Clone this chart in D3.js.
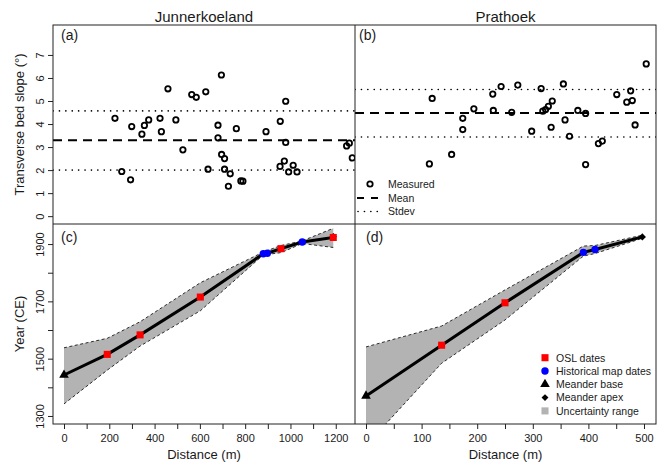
<!DOCTYPE html>
<html>
<head>
<meta charset="utf-8">
<script src="https://cdn.jsdelivr.net/npm/d3@7"></script>
<style>
    body { margin: 0; background: #fff; }
    svg { display: block; font-family: "Liberation Sans", Arial, sans-serif; }
</style>
</head>
<body>
<svg id="chart" width="662" height="464"></svg>
<script>
// --- data ---
var siteNames = ['Junnerkoeland', 'Prathoek'];

// (a) Junnerkoeland transverse bed slope
var junDist = [225, 255, 294, 299, 344, 355, 374, 424, 430, 459, 494, 525, 564, 584, 626, 636, 680, 680, 695,
    696, 709, 709, 726, 734, 761, 781, 790, 892, 954, 955, 973, 979, 979, 992, 1012, 1029, 1248, 1260, 1273];
var junSlope = [4.25, 1.94, 1.58, 3.89, 3.56, 3.94, 4.18, 4.25, 3.67, 5.53, 4.18, 2.88, 5.28, 5.16, 5.40, 2.04, 3.95, 3.40, 6.13,
    2.68, 2.50, 2.04, 1.30, 1.84, 3.80, 1.53, 1.52, 3.67, 2.16, 4.12, 2.39, 4.99, 3.20, 1.92, 2.21, 1.92, 3.05, 3.17, 2.53];
var junStats = [2.00, 3.30, 4.57]; // mean - sd, mean, mean + sd

// (b) Prathoek transverse bed slope
var praDist = [114, 119, 154, 174, 174, 194, 228, 229, 243, 262, 273, 298, 315, 318, 323, 328, 333, 335, 355,
    358, 366, 381, 395, 395, 418, 425, 451, 469, 476, 479, 484, 504];
var praSlope = [2.27, 5.11, 2.68, 4.25, 3.76, 4.66, 5.30, 4.59, 5.63, 4.51, 5.69, 3.69, 5.54, 4.56, 4.63, 4.77, 3.86, 5.00, 5.74,
    4.18, 3.47, 4.59, 4.46, 2.24, 3.15, 3.26, 5.28, 4.95, 5.44, 5.02, 3.96, 6.61];
var praStats = [3.44, 4.48, 5.50];

// (c) Junnerkoeland chronology
var junBase = [0, 1443];
var junApex = [1189, 1926];
var junOslDist = [191, 336, 602, 958, 1189];
var junOslYear = [1515, 1583, 1715, 1884, 1923];
var junMapDist = [880, 898, 1052];
var junMapYear = [1866, 1868, 1907];
var junBandDist = [0, 191, 336, 602, 880, 958, 1052, 1189];
var junBandUpper = [1538, 1571, 1629, 1765, 1872, 1895, 1911, 1955];
var junBandLower = [1342, 1460, 1544, 1667, 1862, 1870, 1902, 1888];

// (d) Prathoek chronology
var praBase = [0, 1370];
var praApex = [497, 1925];
var praOslDist = [136, 250];
var praOslYear = [1547, 1695];
var praMapDist = [391, 412];
var praMapYear = [1871, 1881];
var praBandDist = [0, 136, 250, 391, 412, 497];
var praBandUpper = [1541, 1614, 1740, 1893, 1895, 1931];
var praBandLower = [1197, 1484, 1635, 1858, 1867, 1920];

var slopeTicks = [0, 1, 2, 3, 4, 5, 6, 7];
var yearTicks = [1300, 1400, 1500, 1600, 1700, 1800, 1900];
var junDistTicks = d3.range(0, 1201, 100);
var praDistTicks = d3.range(0, 501, 50);

var legendTop = ['Measured', 'Mean', 'Stdev'];
var legendBottom = ['OSL dates', 'Historical map dates', 'Meander base', 'Meander apex', 'Uncertainty range'];

// --- layout ---
var L = 53, M = 355, R = 656, T = 25, MY = 224, B = 424;
var RED = '#ff0000', BLUE = '#0000ff', GREY = '#b3b3b3';

var svg = d3.select('#chart');

var xJun = d3.scaleLinear().domain([-48.6, 1285]).range([L, M]);
var xPra = d3.scaleLinear().domain([-19.8, 521.6]).range([M, R]);
var ySlope = d3.scaleLinear().domain([-0.34, 8.3]).range([MY, T]);
var yYear = d3.scaleLinear().domain([1272, 1970]).range([B, MY]);

function clip(id, x0, x1, y0, y1) {
    svg.append('clipPath').attr('id', id).append('rect')
        .attr('x', x0).attr('y', y0).attr('width', x1 - x0).attr('height', y1 - y0);
    return 'url(#' + id + ')';
}

// scatter panels (a) and (b)
function slopePanel(id, x, dist, slope, stats) {
    var g = svg.append('g').attr('clip-path', clip(id, x.range()[0], x.range()[1], T, MY));
    var x0 = x.range()[0], x1 = x.range()[1];

    g.selectAll('.sd').data([stats[0], stats[2]]).enter().append('line')
        .attr('x1', x0).attr('x2', x1)
        .attr('y1', function(d) { return ySlope(d); })
        .attr('y2', function(d) { return ySlope(d); })
        .attr('stroke', '#000').attr('stroke-width', 1.6)
        .attr('stroke-linecap', 'round')
        .attr('stroke-dasharray', '0.1,6.3');

    g.append('line')
        .attr('x1', x0).attr('x2', x1)
        .attr('y1', ySlope(stats[1])).attr('y2', ySlope(stats[1]))
        .attr('stroke', '#000').attr('stroke-width', 2)
        .attr('stroke-dasharray', '9,6');

    g.selectAll('.pt').data(d3.zip(dist, slope)).enter().append('circle')
        .attr('cx', function(d) { return x(d[0]); })
        .attr('cy', function(d) { return ySlope(d[1]); })
        .attr('r', 2.7)
        .attr('fill', 'none').attr('stroke', '#000').attr('stroke-width', 1.8);
}

slopePanel('clipA', xJun, junDist, junSlope, junStats);
slopePanel('clipB', xPra, praDist, praSlope, praStats);

// chronology panels (c) and (d)
function sym(type, size) {
    return d3.symbol().type(type).size(size)();
}

function chronoPanel(id, x, base, apex, oslD, oslY, mapD, mapY, bandD, bandU, bandL) {
    var x0 = x.range()[0], x1 = x.range()[1];
    var g = svg.append('g').attr('clip-path', clip(id, x0, x1, MY, B));

    var band = d3.area()
        .x(function(d) { return x(d[0]); })
        .y0(function(d) { return yYear(d[2]); })
        .y1(function(d) { return yYear(d[1]); });
    var bandData = d3.zip(bandD, bandU, bandL);
    g.append('path').datum(bandData).attr('d', band).attr('fill', GREY);

    [1, 2].forEach(function(k) {
        g.append('path').datum(bandData)
            .attr('d', d3.line().x(function(d) { return x(d[0]); }).y(function(d) { return yYear(d[k]); }))
            .attr('fill', 'none').attr('stroke', '#000').attr('stroke-width', 0.8)
            .attr('stroke-dasharray', '3,2.5');
    });

    var pts = [base].concat(d3.zip(oslD, oslY), d3.zip(mapD, mapY), [apex])
        .sort(function(a, b) { return a[0] - b[0]; });
    var g2 = svg.append('g');
    g2.append('path').datum(pts)
        .attr('d', d3.line().x(function(d) { return x(d[0]); }).y(function(d) { return yYear(d[1]); }))
        .attr('fill', 'none').attr('stroke', '#000').attr('stroke-width', 3);

    g2.append('path').attr('d', sym(d3.symbolTriangle, 40))
        .attr('transform', 'translate(' + x(base[0]) + ',' + yYear(base[1]) + ')');
    g2.append('path').attr('d', sym(d3.symbolSquare, 26))
        .attr('transform', 'translate(' + x(apex[0]) + ',' + yYear(apex[1]) + ') rotate(45)');

    g2.selectAll('.osl').data(d3.zip(oslD, oslY)).enter().append('path')
        .attr('d', sym(d3.symbolSquare, 50)).attr('fill', RED)
        .attr('transform', function(d) { return 'translate(' + x(d[0]) + ',' + yYear(d[1]) + ')'; });
    g2.selectAll('.map').data(d3.zip(mapD, mapY)).enter().append('circle')
        .attr('cx', function(d) { return x(d[0]); })
        .attr('cy', function(d) { return yYear(d[1]); })
        .attr('r', 3.7).attr('fill', BLUE);
}

chronoPanel('clipC', xJun, junBase, junApex, junOslDist, junOslYear, junMapDist, junMapYear,
    junBandDist, junBandUpper, junBandLower);
chronoPanel('clipD', xPra, praBase, praApex, praOslDist, praOslYear, praMapDist, praMapYear,
    praBandDist, praBandUpper, praBandLower);

// axes
function styleAxis(g) {
    g.select('.domain').remove();
    g.selectAll('line').attr('stroke', '#222');
    g.selectAll('text').attr('fill', '#1a1a1a').style('font-size', '11px');
}

function rotateLabels(g) {
    g.selectAll('text')
        .attr('transform', 'rotate(-90)')
        .attr('x', 0).attr('y', -9).attr('dy', 0)
        .attr('text-anchor', 'middle');
}

svg.append('g').attr('transform', 'translate(' + L + ',0)')
    .call(d3.axisLeft(ySlope).tickValues(slopeTicks).tickSize(5))
    .call(styleAxis).call(rotateLabels);

svg.append('g').attr('transform', 'translate(' + L + ',0)')
    .call(d3.axisLeft(yYear).tickValues(yearTicks).tickSize(5)
        .tickFormat(function(d) { return (d / 100) % 2 === 1 ? d : ''; }))
    .call(styleAxis).call(rotateLabels);

svg.append('g').attr('transform', 'translate(0,' + B + ')')
    .call(d3.axisBottom(xJun).tickValues(junDistTicks).tickSize(5).tickPadding(5)
        .tickFormat(function(d) { return d % 200 === 0 ? d : ''; }))
    .call(styleAxis);

svg.append('g').attr('transform', 'translate(0,' + B + ')')
    .call(d3.axisBottom(xPra).tickValues(praDistTicks).tickSize(5).tickPadding(5)
        .tickFormat(function(d) { return d % 100 === 0 ? d : ''; }))
    .call(styleAxis);

// frames
var frame = svg.append('g').attr('fill', 'none').attr('stroke', '#222').attr('stroke-width', 1);
frame.append('rect').attr('x', L).attr('y', T).attr('width', R - L).attr('height', B - T);
frame.append('line').attr('x1', M).attr('x2', M).attr('y1', T).attr('y2', B);
frame.append('line').attr('x1', L).attr('x2', R).attr('y1', MY).attr('y2', MY);

// texts
var txt = svg.append('g').attr('fill', '#1a1a1a');
txt.selectAll('.site').data(siteNames).enter().append('text')
    .attr('x', function(d, i) { return i === 0 ? (L + M) / 2 : (M + R) / 2; })
    .attr('y', 22).attr('text-anchor', 'middle').style('font-size', '15px')
    .text(function(d) { return d; });

var letters = [['(a)', L + 8, 40], ['(b)', M + 4, 40], ['(c)', L + 8, 242], ['(d)', M + 11, 242]];
txt.selectAll('.lab').data(letters).enter().append('text')
    .attr('x', function(d) { return d[1]; }).attr('y', function(d) { return d[2]; })
    .style('font-size', '14px').text(function(d) { return d[0]; });

txt.append('text').attr('transform', 'translate(24,' + (T + MY) / 2 + ') rotate(-90)')
    .attr('text-anchor', 'middle').style('font-size', '13px').text('Transverse bed slope (°)');
txt.append('text').attr('transform', 'translate(24,' + (MY + B) / 2 + ') rotate(-90)')
    .attr('text-anchor', 'middle').style('font-size', '13px').text('Year (CE)');
[(L + M) / 2, (M + R) / 2].forEach(function(cx) {
    txt.append('text').attr('x', cx).attr('y', 459).attr('text-anchor', 'middle')
        .style('font-size', '13px').text('Distance (m)');
});

// legend (b)
var lgA = svg.append('g').attr('transform', 'translate(' + M + ',184)');
lgA.append('circle').attr('cx', 15).attr('cy', 0).attr('r', 2.7)
    .attr('fill', 'none').attr('stroke', '#000').attr('stroke-width', 1.8);
lgA.append('line').attr('x1', 2).attr('x2', 24).attr('y1', 14).attr('y2', 14)
    .attr('stroke', '#000').attr('stroke-width', 2).attr('stroke-dasharray', '7,7');
lgA.append('line').attr('x1', 3).attr('x2', 26).attr('y1', 27.5).attr('y2', 27.5)
    .attr('stroke', '#000').attr('stroke-width', 1.6).attr('stroke-linecap', 'round')
    .attr('stroke-dasharray', '0.1,6.3');
lgA.selectAll('text').data(legendTop).enter().append('text')
    .attr('x', 33).attr('y', function(d, i) { return i * 13.7 + 3.8; })
    .attr('fill', '#1a1a1a').style('font-size', '10.5px').text(function(d) { return d; });

// legend (d)
var lgB = svg.append('g').attr('transform', 'translate(545,357.7)');
var marks = [
    { type: d3.symbolSquare, size: 50, fill: RED, rot: 0 },
    { type: d3.symbolCircle, size: 43, fill: BLUE, rot: 0 },
    { type: d3.symbolTriangle, size: 40, fill: '#000', rot: 0 },
    { type: d3.symbolSquare, size: 24, fill: '#000', rot: 45 },
    { type: d3.symbolSquare, size: 50, fill: GREY, rot: 0 }
];
lgB.selectAll('path').data(marks).enter().append('path')
    .attr('d', function(d) { return sym(d.type, d.size); })
    .attr('fill', function(d) { return d.fill; })
    .attr('transform', function(d, i) { return 'translate(0,' + (i * 13.3) + ') rotate(' + d.rot + ')'; });
lgB.selectAll('text').data(legendBottom).enter().append('text')
    .attr('x', 11).attr('y', function(d, i) { return i * 13.3 + 3.8; })
    .attr('fill', '#1a1a1a').style('font-size', '10.5px').text(function(d) { return d; });
</script>
</body>
</html>
